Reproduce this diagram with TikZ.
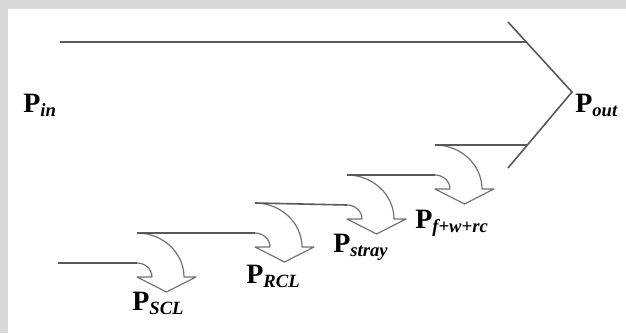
\documentclass[tikz,border=0pt]{standalone}
\usepackage{fontspec}
\setmainfont{Liberation Serif}

\tikzset{
  flow/.style={draw=black!65, line width=1.2pt},
  lossarrow/.style={draw=black!55, line width=0.9pt, fill=white, line join=round},
  plabel/.style={inner sep=0pt, anchor=base west, font=\fontsize{21}{21}\selectfont\bfseries}
}
\newcommand{\psub}[1]{\raisebox{-3pt}{\fontsize{14}{14}\selectfont\itshape #1}}

\begin{document}
\begin{tikzpicture}[x=0.75pt, y=-0.75pt]
  \useasboundingbox (0,0) rectangle (626,333);
  \fill[black!15] (0,0) rectangle (626,333);
  \fill[white] (8,9) rectangle (626,333);

  % input line and the output tip
  \coordinate (in) at (60,42);
  \coordinate (inlow) at (58,263);
  \coordinate (utop) at (508,22);
  \coordinate (tip) at (572,92);
  \coordinate (lbot) at (508,168);
  \coordinate (ujoin) at (526,42);
  \coordinate (ljoin) at (527,145);

  \draw[flow] (utop) -- (tip) -- (lbot);
  \draw[flow] (in) -- (ujoin);

  % loss arrows, one per stage
  \foreach \x/\y/\n in {137/233/1, 255/203/2, 347/175/3, 435/145/4} {
    \begin{scope}[shift={(\x,\y)}]
      \draw[lossarrow] (0,0) .. controls (26,0) and (47,20) .. (47,44)
        -- (59,44) -- (29.5,59) -- (0,44) -- (15,44)
        .. controls (15,36) and (8,30) .. (0,30);
      \coordinate (t\n) at (0,0);
      \coordinate (b\n) at (0,30);
    \end{scope}
  }

  \draw[flow] (inlow) -- (b1);
  \draw[flow] (t1) -- (b2);
  \draw[flow] (t2) -- (b3);
  \draw[flow] (t3) -- (b4);
  \draw[flow] (t4) -- (ljoin);

  \node[plabel] (pin) at (23,112) {P\psub{in}};
  \node[plabel] (pout) at (575,112) {P\psub{out}};
  \node[plabel] (pscl) at (132,310) {P\psub{SCL}};
  \node[plabel] (prcl) at (246,283) {P\psub{RCL}};
  \node[plabel] (pstray) at (333,252) {P\psub{stray}};
  \node[plabel] (pfwr) at (415,228) {P\psub{f+w+rc}};
\end{tikzpicture}
\end{document}
